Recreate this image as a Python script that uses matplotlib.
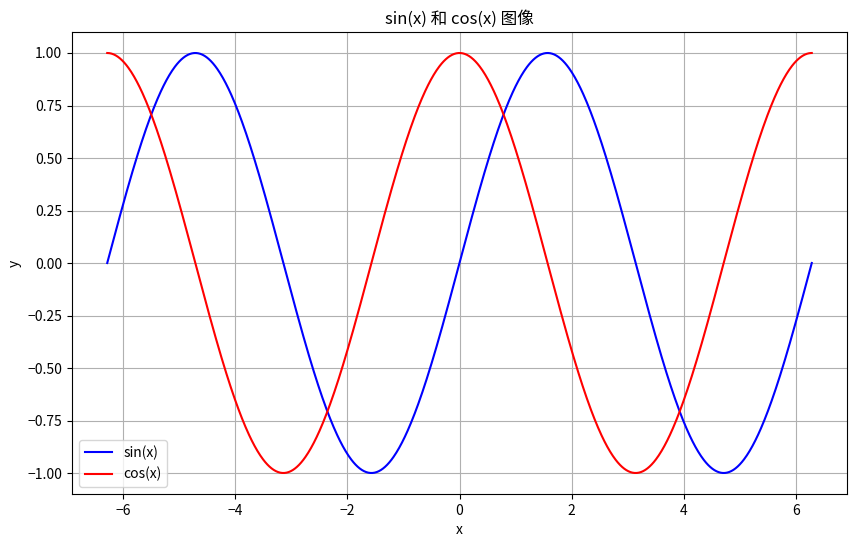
import numpy as np
import matplotlib
matplotlib.use("Agg")
import matplotlib.pyplot as plt

plt.rcParams['font.family'] = ['Noto Sans CJK SC', 'DejaVu Sans']

x_start = -2 * np.pi
x_end = 2 * np.pi
n_points = 1000
series_labels = ['sin(x)', 'cos(x)']
series_colors = ['blue', 'red']
title = 'sin(x) 和 cos(x) 图像'

x = np.linspace(x_start, x_end, n_points)
y_sin = np.sin(x)
y_cos = np.cos(x)

fig = plt.figure(figsize=(8.57, 5.43), dpi=100)
ax = fig.add_axes([72/857, 1-494/543, (847-72)/857, (494-32)/543])
ax.plot(x, y_sin, color=series_colors[0], label=series_labels[0])
ax.plot(x, y_cos, color=series_colors[1], label=series_labels[1])
ax.set_title(title)
ax.set_xlabel('x')
ax.set_ylabel('y')
ax.grid(True)
ax.legend(loc='lower left')
fig.savefig('out.png', dpi=100)
